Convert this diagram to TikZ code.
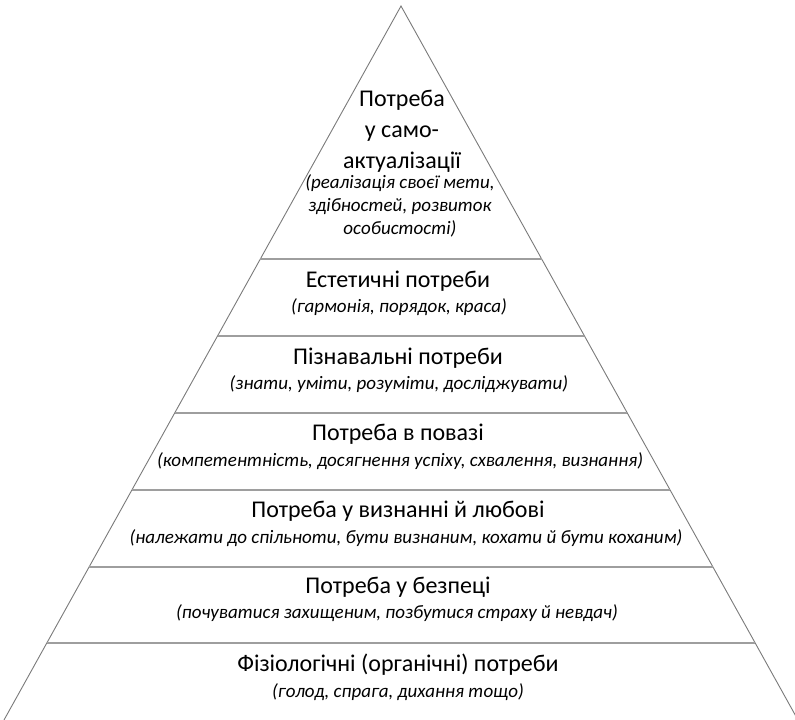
\documentclass[tikz,border=0pt]{standalone}
\usepackage{fontspec}
\setmainfont{Carlito}
\usetikzlibrary{calc}
\begin{document}
\begin{tikzpicture}[x=1pt,y=-1pt,
  edge/.style={draw=black!52,line width=0.9pt},
  tier/.style={draw=black!38,line width=1.6pt},
  ttl/.style={font=\fontsize{24}{31}\selectfont,align=center,inner sep=0pt},
  sub/.style={font=\fontsize{19}{23}\selectfont\itshape,align=center,inner sep=0pt}]
\useasboundingbox (0,0) rectangle (795,720);
\coordinate (A) at (401,6);
\coordinate (BL) at (4,720);
\coordinate (BR) at (798,720);
\draw[edge] (BL) -- (A) -- (BR);
\foreach \t/\n in {0.354/1,0.462/2,0.570/3,0.678/4,0.786/5,0.892/6}{
  \coordinate (L\n) at ($(A)!\t!(BL)$);
  \coordinate (R\n) at ($(A)!\t!(BR)$);
  \draw[tier] (L\n) -- (R\n);
}
\node[ttl] (t7) at (402,131) {Потреба\\у само-\\актуалізації};
\node[sub] (s7) at (400,206) {(реалізація своєї мети,\\здібностей, розвиток\\особистості)};
\node[ttl] (t6) at (398,281) {Естетичні потреби};
\node[sub] (s6) at (399,307) {(гармонія, порядок, краса)};
\node[ttl] (t5) at (398,358) {Пізнавальні потреби};
\node[sub] (s5) at (399,384) {(знати, уміти, розуміти, досліджувати)};
\node[ttl] (t4) at (398,434) {Потреба в повазі};
\node[sub] (s4) at (400,461) {(компетентність, досягнення успіху, схвалення, визнання)};
\node[ttl] (t3) at (398,511) {Потреба у визнанні й любові};
\node[sub] (s3) at (406,538) {(належати до спільноти, бути визнаним, кохати й бути коханим)};
\node[ttl] (t2) at (398,587) {Потреба у безпеці};
\node[sub] (s2) at (397,613) {(почуватися захищеним, позбутися страху й невдач)};
\node[ttl] (t1) at (398,665) {Фізіологічні (органічні) потреби};
\node[sub] (s1) at (398,692) {(голод, спрага, дихання тощо)};
\end{tikzpicture}
\end{document}
